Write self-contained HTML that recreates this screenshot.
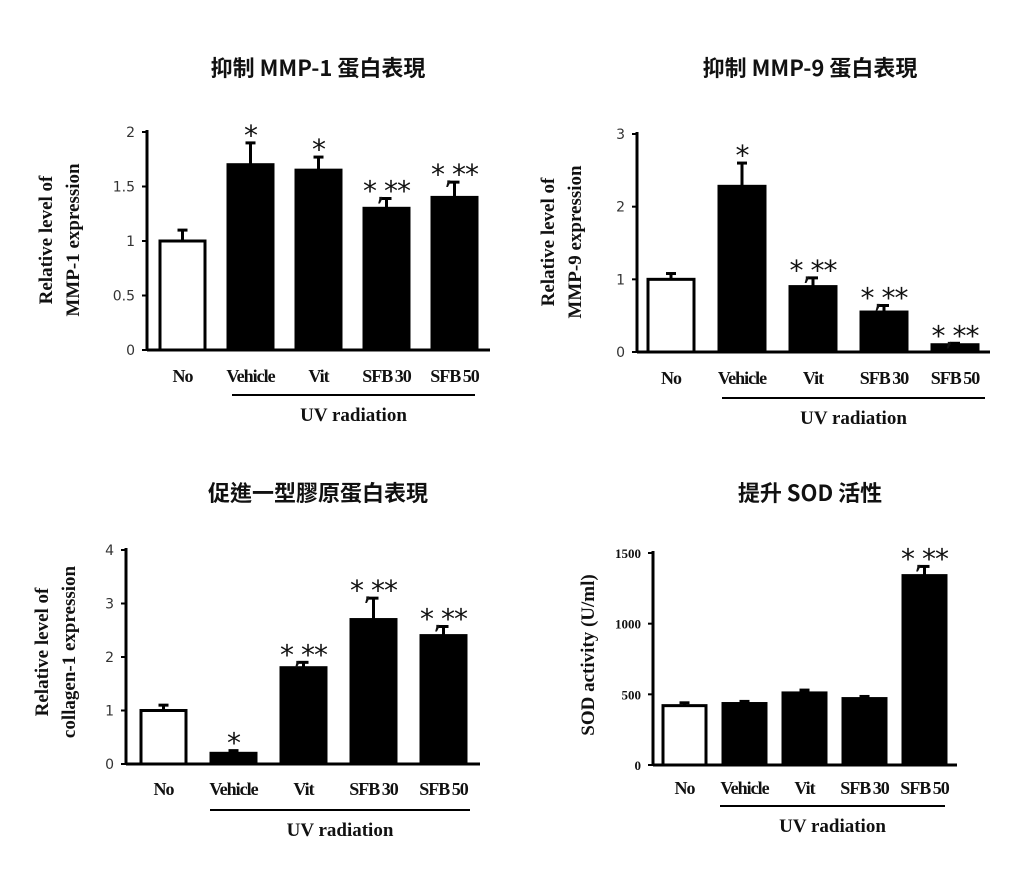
<!DOCTYPE html>
<html><head><meta charset="utf-8"><style>
body{margin:0;background:#fff;width:1024px;height:877px;overflow:hidden}
svg{display:block}
.ttl{font-family:"Noto Sans CJK TC","Liberation Sans",sans-serif;font-size:22px;font-weight:600;fill:#111}
.tk{font-family:"DejaVu Sans","Liberation Sans",sans-serif;font-size:14px;fill:#333}
.tks{font-family:"Liberation Serif",serif;font-size:13px;font-weight:bold;fill:#111}
.cat{font-family:"Liberation Serif",serif;font-size:18px;font-weight:bold;fill:#111;letter-spacing:-1px}
.uv{font-family:"Liberation Serif",serif;font-size:19px;font-weight:bold;fill:#111}
.yt{font-family:"Liberation Serif",serif;font-size:19px;font-weight:bold;fill:#111}
.ast{font-family:"DejaVu Sans",sans-serif;font-size:28px;fill:#111}
</style></head><body>
<svg id="c" width="1024" height="877">
<text class="ttl" x="318" y="76" text-anchor="middle">抑制 MMP-1 蛋白表現</text>
<text class="ttl" x="810" y="76" text-anchor="middle">抑制 MMP-9 蛋白表現</text>
<text class="ttl" x="318" y="501" text-anchor="middle">促進一型膠原蛋白表現</text>
<text class="ttl" x="810" y="501" text-anchor="middle">提升 SOD 活性</text>
</svg>
<script>
const categories = ["No","Vehicle","Vit","SFB30","SFB50"];
const mmp1Values = [1.0,1.7,1.65,1.3,1.4];
const mmp1Errors = [0.1,0.2,0.12,0.09,0.14];
const mmp1Marks = ["","*","*","*,**","*,**"];
const mmp1Ticks = [0,0.5,1,1.5,2];
const mmp9Values = [1.0,2.28,0.9,0.55,0.1];
const mmp9Errors = [0.08,0.32,0.12,0.09,0.02];
const mmp9Marks = ["","*","*,**","*,**","*,**"];
const mmp9Ticks = [0,1,2,3];
const colValues = [1.0,0.2,1.8,2.7,2.4];
const colErrors = [0.1,0.05,0.1,0.4,0.17];
const colMarks = ["","*","*,**","*,**","*,**"];
const colTicks = [0,1,2,3,4];
const sodValues = [420,435,510,470,1340];
const sodErrors = [20,15,20,15,65];
const sodMarks = ["","","","","*,**"];
const sodTicks = [0,500,1000,1500];

const svg = document.getElementById('c');
const NS = 'http://www.w3.org/2000/svg';
function mk(tag, attrs, txt){const e=document.createElementNS(NS,tag);for(const k in attrs)e.setAttribute(k,attrs[k]);if(txt!==undefined)e.textContent=txt;svg.appendChild(e);return e;}

function chart(o){
  const y = v => o.y0 - (v/o.max)*(o.y0-o.yTop);
  const ax = mk('line',{x1:o.ax,y1:o.yTop-2,x2:o.ax,y2:o.y0,stroke:'#000','stroke-width':3});
  
  
  const xa = mk('line',{x1:o.ax,y1:o.y0,x2:o.axEnd,y2:o.y0,stroke:'#000','stroke-width':3});
  
  
  o.ticks.forEach(t=>{
    const ty=y(t);
    mk('line',{x1:o.ax-5,y1:ty,x2:o.ax,y2:ty,stroke:'#000','stroke-width':2});
    const tl = mk('text',{x:o.ax-12,y:ty+5,'text-anchor':'end',class:o.tickClass},String(t));
    
    
  });
  categories.forEach((c,i)=>{
    const x0 = o.x0 + i*o.step;
    const v=o.vals[i], e=o.errs[i];
    const top=y(v), et=y(v+e);
    const cx=x0+o.bw/2;
    const eb = mk('line',{x1:cx,y1:top,x2:cx,y2:et,stroke:'#000','stroke-width':3});
    
    
    mk('line',{x1:cx-5,y1:et,x2:cx+5,y2:et,stroke:'#000','stroke-width':3});
    const r = mk('rect',{x:x0,y:top,width:o.bw,height:o.y0-top,fill:i===0?'#fff':'#000',stroke:'#000','stroke-width':3});
    
    
    if(o.marks[i]){
      const a = mk('text',{x:cx,y:et+2,'text-anchor':'middle',class:'ast',style:'letter-spacing:-1px'},o.marks[i]);
      
      
    }
    const l = mk('text',{x:cx,y:o.labY,'text-anchor':'middle',class:'cat'},c.replace('SFB','SFB\u2009'));
    
    
  });
  const ul = mk('line',{x1:o.ulX1,y1:o.ulY,x2:o.ulX2,y2:o.ulY,stroke:'#000','stroke-width':2});
  
  
  const uv = mk('text',{x:(o.ulX1+o.ulX2)/2,y:o.ulY+26,'text-anchor':'middle',class:'uv'},'UV radiation');
  
  
  o.yTitle.forEach((line,k)=>{
    const tx=o.ytX+k*27;
    const t = mk('text',{x:tx,y:o.ytY,'text-anchor':'middle',class:'yt',transform:'rotate(-90 '+tx+' '+o.ytY+')'},line);
    
    
  });
}
chart({id:'mmp1',ax:147,axEnd:490,yTop:132,y0:350,max:2,ticks:mmp1Ticks,vals:mmp1Values,errs:mmp1Errors,marks:mmp1Marks,
  x0:160,step:68,bw:45,labY:382,ulX1:232,ulX2:475,ulY:395,yTitle:['Relative level of','MMP-1 expression'],ytX:52,ytY:240,tickClass:'tk'});
chart({id:'mmp9',ax:637,axEnd:990,yTop:134,y0:352,max:3,ticks:mmp9Ticks,vals:mmp9Values,errs:mmp9Errors,marks:mmp9Marks,
  x0:648,step:71,bw:46,labY:384,ulX1:722,ulX2:985,ulY:398,yTitle:['Relative level of','MMP-9 expression'],ytX:554,ytY:242,tickClass:'tk'});
chart({id:'collagen',ax:126,axEnd:480,yTop:550,y0:764,max:4,ticks:colTicks,vals:colValues,errs:colErrors,marks:colMarks,
  x0:141,step:70,bw:45,labY:795,ulX1:210,ulX2:470,ulY:810,yTitle:['Relative level of','collagen-1 expression'],ytX:48,ytY:652,tickClass:'tk'});
chart({id:'sod',ax:653,axEnd:957,yTop:553,y0:765,max:1500,ticks:sodTicks,vals:sodValues,errs:sodErrors,marks:sodMarks,
  x0:663,step:60,bw:43,labY:794,ulX1:720,ulX2:945,ulY:806,yTitle:['SOD activity (U/ml)'],ytX:594,ytY:655,tickClass:'tks'});
</script>
</body></html>
